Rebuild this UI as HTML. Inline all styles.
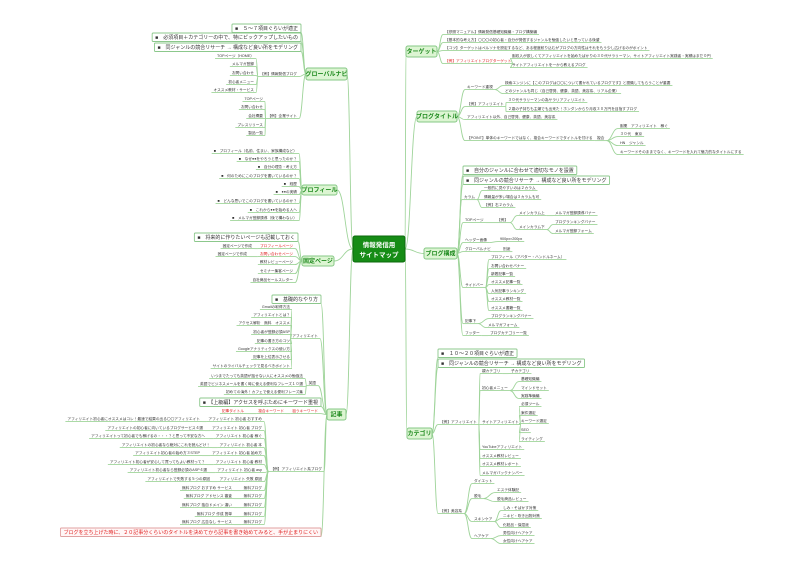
<!DOCTYPE html>
<html><head><meta charset="utf-8">
<style>
html,body{margin:0;padding:0;background:#fff;}
svg{display:block;font-family:"Liberation Sans","Noto Sans CJK JP",sans-serif;}
</style></head>
<body>
<svg id="s" width="806" height="570" viewBox="0 0 806 570" xmlns="http://www.w3.org/2000/svg">
<rect x="0" y="0" width="806" height="570" fill="#fff"/>
<g id="lines" fill="none" stroke="#9fd49a" stroke-width="0.9"></g>
<g id="nodes"></g>
<rect x="353" y="236" width="52" height="26" rx="2" fill="#168c16" stroke="#0c6a0c"/>
<text x="379" y="247" font-size="6.5" font-weight="bold" fill="#fff" text-anchor="middle">情報発信用</text>
<text x="379" y="257" font-size="6.5" font-weight="bold" fill="#fff" text-anchor="middle">サイトマップ</text>
</svg>
<script>
const NS="http://www.w3.org/2000/svg";
const L=document.getElementById('lines'),N=document.getElementById('nodes');
function el(tag,a,p){const e=document.createElementNS(NS,tag);for(const k in a)e.setAttribute(k,a[k]);(p||N).appendChild(e);return e;}
function curve(a,b){const mx=(a[0]+b[0])/2;el('path',{d:`M${a[0]},${a[1]} C${mx},${a[1]} ${mx},${b[1]} ${b[0]},${b[1]}`},L);}
function node(n,side){
  const fs=n.b?5:3.7;
  const t=el('text',{x:n.x,y:n.y,'font-size':fs,fill:n.red?'#e02020':'#333','text-anchor':side=='R'?'start':'end'});
  t.textContent=n.t;
  const w=t.getComputedTextLength();
  let x1=side=='R'?n.x:n.x-w, x2=x1+w, ly=n.y+1.6;
  if(n.b){
    const r=el('rect',{x:x1-3,y:n.y-6,width:w+6,height:8.5,rx:1,fill:n.red?'#fff6f6':'#fff',stroke:n.red?'#e0a0a0':'#8cc88c','stroke-width':0.9});
    N.insertBefore(r,t);x1-=3;x2+=3;ly=n.y+2.5;
  } else {
    el('line',{x1:x1-2,y1:ly,x2:x2+2,y2:ly,stroke:'#9fd49a','stroke-width':0.9},L);
    x1-=2;x2+=2;
  }
  const entry=side=='R'?[x1,ly]:[x2,ly], exit=side=='R'?[x2,ly]:[x1,ly];
  (n.c||[]).forEach(c=>{const e=node(c,side);curve(exit,e);});
  return entry;
}
function branch(b,side){
  el('rect',{x:b.x,y:b.y,width:b.w,height:b.h,rx:2,fill:'#dcf5d2',stroke:'#86c886','stroke-width':1});
  const t=el('text',{x:b.x+b.w/2,y:b.y+b.h/2+2.2,'font-size':6,'font-weight':'bold',fill:'#1e8a1e','text-anchor':'middle'});t.textContent=b.t;
  const my=b.y+b.h/2;
  if(side=='R'){curve([405,249],[b.x,my]);}else{curve([353,249],[b.x+b.w,my]);}
  const exit=side=='R'?[b.x+b.w,my]:[b.x,my];
  b.c.forEach(c=>{const e=node(c,side);curve(exit,e);});
}
const R=[
{t:'ターゲット',x:406,y:46,w:31,h:11,c:[
 {t:'【参照マニュアル】情報発信基礎知識編・ブログ構築編',x:445,y:33},
 {t:'【基本的な考え方】〇〇〇の初心者・自分が発信するジャンルを勉強したいと思っている後輩',x:445,y:41},
 {t:'【コツ】ターゲットはペルソナを設定するなど、ある程度絞り込むがブログの方向性はそれをもう少し広げるのがポイント',x:445,y:49},
 {t:'【例】アフィリエイトブログターゲット',x:445,y:62,red:1,c:[
  {t:'副収入が欲しくてアフィリエイトを始めたばかりの３０代サラリーマン、サイトアフィリエイト実践者・実績はまだ０円',x:512,y:57},
  {t:'サイトアフィリエイトを一から教えるブログ',x:512,y:66}]}]},
{t:'ブログタイトル',x:417,y:111,w:40,h:11,c:[
 {t:'キーワード重視',x:467,y:88,c:[
  {t:'検索エンジンに【このブログは〇〇について書かれているブログです】と認識してもらうことが重要',x:505,y:84},
  {t:'どのジャンルも同じ（自己啓発、健康、英語、美容系、リアル企業）',x:505,y:92}]},
 {t:'【例】アフィリエイト',x:467,y:105,c:[
  {t:'３０代サラリーマンの為サラリアフィリエイト',x:508,y:101},
  {t:'２歳の子持ちも主婦でも出来た！ホンダンからり月収３０万円を目指すブログ',x:508,y:110}]},
 {t:'アフィリエイト以外、自己啓発、健康、英語、美容系',x:467,y:118},
 {t:'【POINT】単体のキーワードではなく、複合キーワードでタイトルを付ける',x:467,y:139,c:[
  {t:'複合',x:597,y:139,c:[
   {t:'副業　アフィリエイト　稼ぐ',x:620,y:127},
   {t:'３０代　東京',x:620,y:135},
   {t:'HN　ジャンル',x:620,y:144},
   {t:'キーワードそのままでなく、キーワードを入れて魅力的なタイトルにする',x:620,y:153}]}]}]},
{t:'ブログ構成',x:424,y:248,w:33,h:11,c:[
 {t:'■　自分のジャンルに合わせて適切なモノを設置',x:466,y:172,b:1},
 {t:'■　同ジャンルの競合リサーチ → 構成など良い所をモデリング',x:466,y:182,b:1},
 {t:'カラム',x:464,y:198,c:[
  {t:'一般的に見やすいのは２カラム',x:484,y:189},
  {t:'情報量が多い場合は３カラムも可',x:484,y:198},
  {t:'【例】右２カラム',x:484,y:206}]},
 {t:'TOPページ',x:465,y:221,c:[{t:'【例】',x:497,y:221,c:[
  {t:'メインカラム上',x:519,y:214,c:[{t:'メルマガ登録誘導バナー',x:555,y:214}]},
  {t:'メインカラム下',x:519,y:228,c:[{t:'ブログランキングバナー',x:555,y:223},{t:'メルマガ登録フォーム',x:555,y:232}]}]}]},
 {t:'ヘッダー画像',x:465,y:241,c:[{t:'900px×200px',x:500,y:240}]},
 {t:'グローバルナビ',x:465,y:250,c:[{t:'別途',x:503,y:250}]},
 {t:'サイドバー',x:465,y:286,c:[
  {t:'プロフィール（アバター・ハンドルネーム）',x:491,y:258},
  {t:'お問い合わせバナー',x:491,y:267},
  {t:'新着記事一覧',x:491,y:275},
  {t:'オススメ記事一覧',x:491,y:283},
  {t:'人気記事ランキング',x:491,y:292},
  {t:'オススメ教材一覧',x:491,y:300},
  {t:'オススメ書籍一覧',x:491,y:309}]},
 {t:'記事下',x:465,y:322,c:[{t:'ブログランキングバナー',x:491,y:317},{t:'メルマガフォーム',x:488,y:326}]},
 {t:'フッター',x:465,y:334,c:[{t:'ブログカテゴリー一覧',x:490,y:334}]}]},
{t:'カテゴリ',x:407,y:428,w:25,h:11,c:[
 {t:'■　１０～２０項目ぐらいが適正',x:441,y:355,b:1},
 {t:'■　同ジャンルの競合リサーチ → 構成など良い所をモデリング',x:441,y:365,b:1},
 {t:'【例】アフィリエイト',x:440,y:423,c:[
  {t:'親カテゴリ',x:482,y:372,c:[{t:'子カテゴリ',x:511,y:372}]},
  {t:'初心者メニュー',x:482,y:389,c:[{t:'基礎知識編',x:521,y:380},{t:'マインドセット',x:521,y:389},{t:'実践準備編',x:521,y:397}]},
  {t:'サイトアフィリエイト',x:482,y:423,c:[{t:'必須ツール',x:521,y:405},{t:'案件選定',x:521,y:414},{t:'キーワード選定',x:521,y:422},{t:'SEO',x:521,y:431},{t:'ライティング',x:521,y:440}]},
  {t:'YouTubeアフィリエイト',x:482,y:448},
  {t:'オススメ教材レビュー',x:482,y:457},
  {t:'オススメ教材レポート',x:482,y:465},
  {t:'メルマガバックナンバー',x:482,y:474}]},
 {t:'【例】美容系',x:440,y:512,c:[
  {t:'ダイエット',x:474,y:482},
  {t:'脱毛',x:474,y:497,c:[{t:'エステ体験記',x:497,y:491},{t:'脱毛商品レビュー',x:497,y:500}]},
  {t:'スキンケア',x:474,y:520,c:[{t:'しみ・そばかす対策',x:503,y:509},{t:'ニキビ・吹き出物対策',x:503,y:517},{t:'化粧品・保湿液',x:503,y:526}]},
  {t:'ヘアケア',x:474,y:537,c:[{t:'男性向けヘアケア',x:503,y:534},{t:'女性向けヘアケア',x:503,y:542}]}]}]}
];
const kw=[
['アフィリエイト初心者にオススメはコレ！最速で結果の出る〇〇アフィリエイト','アフィリエイト 初心者 おすすめ',420,200],
['アフィリエイトの初心者に向いているブログサービス４選','アフィリエイト 初心者 ブログ',429,203],
['アフィリエイトって初心者でも稼げるの・・・？と思って不安な方へ','アフィリエイト 初心者 稼ぐ',437,205],
['アフィリエイトの初心者なら絶対にこれを読んどけ！','アフィリエイト 初心者 本',446,210],
['アフィリエイト初心者の始め方３STEP','アフィリエイト 初心者 始め方',454,200],
['アフィリエイト初心者が安心して買ってもよい教材って？','アフィリエイト 初心者 教材',463,205],
['アフィリエイト初心者なら登録必須のASP４選','アフィリエイト 初心者 asp',471,207],
['アフィリエイトで失敗する５つの原因','アフィリエイト 失敗 原因',480,210],
['無料ブログ おすすめ サービス','無料ブログ',489,232],
['無料ブログ アドセンス 審査','無料ブログ',497,232],
['無料ブログ 独自ドメイン 違い','無料ブログ',506,232],
['無料ブログ 作成 簡単','無料ブログ',515,232],
['無料ブログ 広告なし サービス','無料ブログ',523,232]];
const Lb=[
{t:'グローバルナビ',x:306,y:68,w:41,h:12,c:[
 {t:'■　５～７項目ぐらいが適正',x:298,y:30,b:1},
 {t:'■　必須項目＋カテゴリーの中で、特にピックアップしたいもの',x:298,y:39,b:1},
 {t:'■　同ジャンルの競合リサーチ → 構成など良い所をモデリング',x:298,y:49,b:1},
 {t:'【例】情報発信ブログ',x:297,y:75,c:[
  {t:'TOPページ（HOME）',x:254,y:57},{t:'メルマガ登録',x:254,y:65},{t:'お問い合わせ',x:254,y:74},{t:'初心者メニュー',x:254,y:83},{t:'オススメ教材・サービス',x:254,y:91}]},
 {t:'【例】企業サイト',x:297,y:117,c:[
  {t:'TOPページ',x:263,y:100},{t:'お問い合わせ',x:263,y:108},{t:'会社概要',x:263,y:117},{t:'プレスリリース',x:263,y:126},{t:'製品一覧',x:263,y:134}]}]},
{t:'プロフィール',x:302,y:185,w:35,h:10,c:[
 '■　プロフィール（名前、住まい、家族構成など）','■　なぜ●●をやろうと思ったのか？','■　自分の理念・考え方','■　何のためにこのブログを書いているのか？','■　経歴','■　●●の実績','■　どんな思いでこのブログを書いているのか？','■　これから●●を始める人へ','■　メルマガ登録誘導（後で構わない）'
 ].map((t,i)=>({t,x:297,y:[152,160,168,177,185,193,202,211,219][i]}))},
{t:'固定ページ',x:302,y:256,w:32,h:10,c:[
 {t:'■　将来的に作りたいページも記載しておく',x:295,y:239,b:1},
 {t:'プロフィールページ',x:293,y:247,red:1,c:[{t:'固定ページで作成',x:252,y:247}]},
 {t:'お問い合わせページ',x:293,y:255,red:1,c:[{t:'固定ページで作成',x:247,y:255}]},
 {t:'教材レビューページ',x:293,y:263},
 {t:'セミナー集客ページ',x:293,y:272},
 {t:'自社商品セールスレター',x:293,y:281}]},
{t:'記事',x:327,y:409,w:19,h:11,c:[
 {t:'■　基礎的なやり方',x:318,y:301,b:1},
 {t:'アフィリエイト',x:318,y:337,c:['Gmailの取得方法','アフィリエイトとは？','アクセス解析　無料　オススメ','初心者が登録必須ASP','記事の書き方のコツ','Googleアナリティクスの使い方','記事を上位表示させる','サイトのライバルチェックで見るべきポイント'].map((t,i)=>({t,x:290,y:[308,316,324,333,342,350,358,367][i]}))},
 {t:'英語',x:316,y:384,c:[
  {t:'いつまでたっても英語が話せない人にオススメの勉強法',x:303,y:377},
  {t:'英語でビジネスメールを書く時に使える便利なフレーズ１０選',x:303,y:385},
  {t:'初めての海外！カフェで使える便利フレーズ集',x:303,y:393}]},
 {t:'■　【上級編】アクセスを呼ぶためにキーワード重視',x:318,y:404,b:1},
 {t:'狙うキーワード',x:318,y:412,red:1,c:[{t:'複合キーワード',x:284,y:412,red:1,c:[{t:'記事タイトル',x:244,y:412,red:1}]}]},
 {t:'【例】アフィリエイト系ブログ',x:322,y:470,c:kw.map(k=>({t:k[1],x:262,y:k[2],c:[{t:k[0],x:k[3],y:k[2]}]}))},
 {t:'ブログを立ち上げた時に、２０記事分くらいのタイトルを決めてから記事を書き始めてみると、手が止まりにくい',x:318,y:534,b:1,red:1}]}
];
R.forEach(b=>branch(b,'R'));
Lb.forEach(b=>branch(b,'L'));
</script>
</body></html>
